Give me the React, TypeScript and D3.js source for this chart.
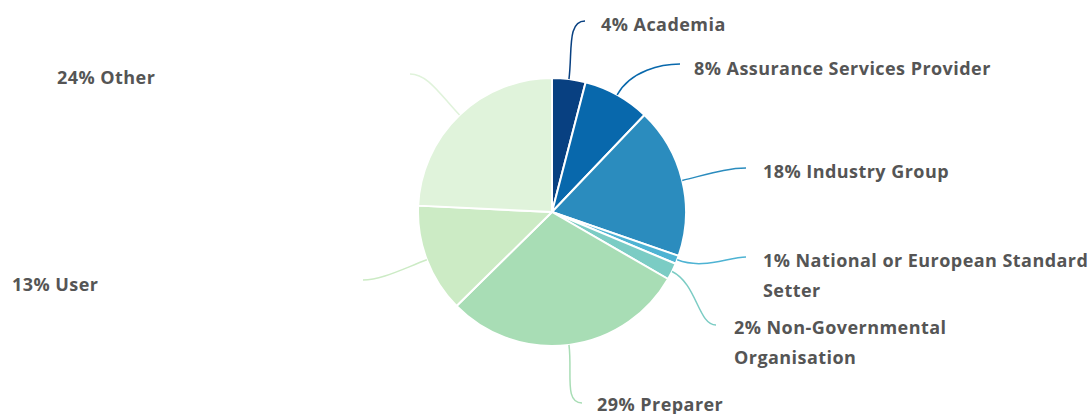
import React from "react";
import * as d3 from "d3";

const categories = [
  "Academia",
  "Assurance Services Provider",
  "Industry Group",
  "National or European Standard Setter",
  "Non-Governmental Organisation",
  "Preparer",
  "User",
  "Other",
];
const values = [4, 8, 18, 1, 2, 29, 13, 24];
const colors = ["#084081", "#0868ac", "#2b8cbe", "#4eb3d3", "#7bccc4", "#a8ddb5", "#ccebc5", "#e0f3db"];
// label text lines
const labelLines = [
  ["4% Academia"],
  ["8% Assurance Services Provider"],
  ["18% Industry Group"],
  ["1% National or European Standard", "Setter"],
  ["2% Non-Governmental", "Organisation"],
  ["29% Preparer"],
  ["13% User"],
  ["24% Other"],
];

// layout (label placement)
const labelPos = [
  { x: 601, y: 31, ex: 585, ey: 21 },
  { x: 694, y: 75, ex: 680, ey: 64 },
  { x: 763, y: 178, ex: 746, ey: 168 },
  { x: 763, y: 267, ex: 746, ey: 257 },
  { x: 734, y: 334, ex: 716, ey: 325 },
  { x: 597, y: 411, ex: 582, ey: 403 },
  { x: 12, y: 291, ex: 363, ey: 280 },
  { x: 57, y: 84, ex: 410, ey: 74 },
];

const W = 1090;
const H = 414;
const cx = 552;
const cy = 212;
const R = 134;

export default function App() {
  const data = categories.map((c, i) => ({ c, v: values[i], i }));
  const pie = d3.pie<any>().value((d) => d.v).sort(null);
  const arcs = pie(data);
  const arc = d3.arc<any>().innerRadius(0).outerRadius(R);

  return (
    <svg width={W} height={H} style={{ position: "absolute", left: 0, top: 0 }}>
      <rect width={W} height={H} fill="#fff" />
      <g transform={`translate(${cx},${cy})`}>
        {arcs.map((a, i) => (
          <path key={i} d={arc(a) || ""} fill={colors[i]} stroke="#fff" strokeWidth={2} strokeLinejoin="round" />
        ))}
      </g>
      {arcs.map((a, i) => {
        const mid = (a.startAngle + a.endAngle) / 2;
        const sx = cx + R * Math.sin(mid);
        const sy = cy - R * Math.cos(mid);
        const ext = 28;
        const c1x = cx + (R + ext) * Math.sin(mid);
        const c1y = cy - (R + ext) * Math.cos(mid);
        const lp = labelPos[i];
        const side = lp.ex > cx ? 1 : -1;
        const c2x = lp.ex - side * 18;
        const c2y = lp.ey;
        const d = `M${sx},${sy} C${c1x},${c1y} ${c2x},${c2y} ${lp.ex},${lp.ey}`;
        return <path key={"l" + i} d={d} fill="none" stroke={colors[i]} strokeWidth={1.5} />;
      })}
      {labelLines.map((lines, i) => (
        <text
          key={"t" + i}
          x={labelPos[i].x}
          y={labelPos[i].y}
          fontFamily="'Open Sans', sans-serif"
          fontWeight={700}
          fontSize={18}
          letterSpacing={0.45}
          fill="#555555"
        >
          {lines.map((t, j) => (
            <tspan key={j} x={labelPos[i].x} dy={j === 0 ? 0 : 30}>
              {t}
            </tspan>
          ))}
        </text>
      ))}
    </svg>
  );
}
